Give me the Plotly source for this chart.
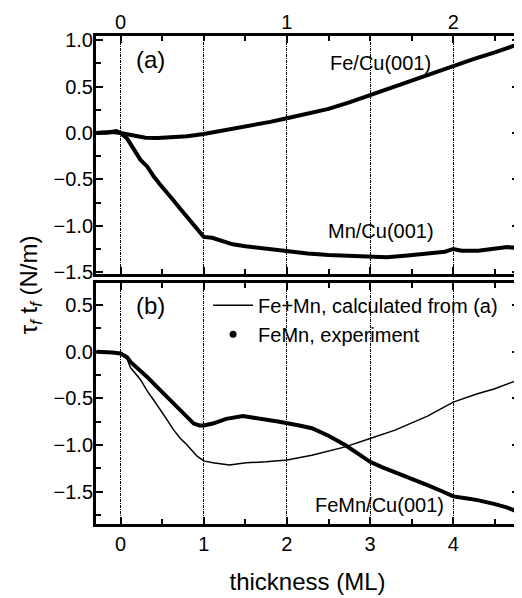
import plotly.graph_objects as go

# ---------------- data ----------------
fe_x = [-0.29, -0.2, -0.1, 0.0, 0.1, 0.2, 0.3, 0.45, 0.6, 0.8, 1.0, 1.2, 1.4, 1.6, 1.8,
        2.0, 2.2, 2.5, 2.75, 3.0, 3.25, 3.5, 3.75, 4.0, 4.25, 4.5, 4.79]
fe_y = [0.0, 0.005, 0.01, 0.0, -0.02, -0.04, -0.05, -0.055, -0.05, -0.035, -0.01, 0.02, 0.05,
        0.08, 0.12, 0.16, 0.20, 0.26, 0.33, 0.41, 0.49, 0.57, 0.65, 0.73, 0.80, 0.87, 0.96]

mn_x = [-0.29, -0.15, -0.05, 0.0, 0.08, 0.15, 0.24, 0.32, 0.4, 0.48, 0.56, 0.64, 0.72, 0.8,
        0.88, 0.95, 1.0, 1.1, 1.2, 1.35, 1.5, 1.6, 1.75, 1.9, 2.0, 2.25, 2.5, 2.75, 3.0,
        3.2, 3.45, 3.7, 3.9, 4.0, 4.1, 4.3, 4.5, 4.65, 4.79]
mn_y = [0.0, 0.005, 0.02, 0.0, -0.06, -0.17, -0.29, -0.36, -0.47, -0.56, -0.64, -0.73, -0.82,
        -0.91, -0.99, -1.07, -1.12, -1.13, -1.16, -1.20, -1.22, -1.23, -1.25, -1.27, -1.28,
        -1.30, -1.315, -1.325, -1.33, -1.34, -1.32, -1.30, -1.28, -1.25, -1.27, -1.27,
        -1.25, -1.23, -1.24]

calc_x = [-0.29, -0.2, -0.1, 0.0, 0.08, 0.12, 0.24, 0.32, 0.4, 0.48, 0.56, 0.64, 0.72, 0.8,
          0.92, 1.0, 1.11, 1.31, 1.51, 1.75, 2.0, 2.3, 2.7, 3.0, 3.3, 3.69, 4.0, 4.29, 4.49, 4.79]
calc_y = [0.0, 0.0, -0.01, -0.02, -0.08, -0.17, -0.30, -0.42, -0.52, -0.62, -0.73, -0.84,
          -0.93, -1.0, -1.12, -1.17, -1.19, -1.215, -1.19, -1.18, -1.16, -1.11, -1.02, -0.93,
          -0.84, -0.69, -0.54, -0.45, -0.40, -0.30]

exp_x = [-0.29, -0.2, -0.1, 0.0, 0.08, 0.12, 0.2, 0.32, 0.42, 0.52, 0.62, 0.72, 0.8, 0.88,
         0.95, 1.0, 1.11, 1.27, 1.47, 1.63, 1.8, 1.91, 2.15, 2.3, 2.5, 2.7, 2.85, 3.0, 3.15,
         3.3, 3.5, 3.69, 3.85, 4.0, 4.15, 4.29, 4.49, 4.65, 4.79]
exp_y = [0.0, 0.0, -0.01, -0.02, -0.06, -0.11, -0.17, -0.27, -0.36, -0.45, -0.54, -0.62,
         -0.70, -0.77, -0.79, -0.79, -0.77, -0.72, -0.69, -0.71, -0.73, -0.75, -0.79, -0.82,
         -0.90, -1.0, -1.09, -1.18, -1.24, -1.29, -1.36, -1.43, -1.49, -1.55, -1.57, -1.59,
         -1.63, -1.67, -1.72]

bottom_ticks = [0, 1, 2, 3, 4]
top_tickvals = [0, 2, 4]
top_ticktext = ["0", "1", "2"]

# ---------------- figure ----------------
FONT = "Arial, Liberation Sans, sans-serif"
XR = [-0.295, 4.79]
YA = [-1.52, 1.046]
YB = [-1.846, 0.736]

fig = go.Figure()

fig.add_trace(go.Scatter(x=fe_x, y=fe_y, mode="lines", line=dict(color="black", width=4),
                         xaxis="x", yaxis="y", showlegend=False, hoverinfo="skip"))
fig.add_trace(go.Scatter(x=mn_x, y=mn_y, mode="lines", line=dict(color="black", width=4),
                         xaxis="x", yaxis="y", showlegend=False, hoverinfo="skip"))
fig.add_trace(go.Scatter(x=[None], y=[None], mode="lines", xaxis="x3", yaxis="y",
                         showlegend=False, hoverinfo="skip"))

fig.add_trace(go.Scatter(x=calc_x, y=calc_y, mode="lines", line=dict(color="black", width=1.5),
                         xaxis="x2", yaxis="y2", name="Fe+Mn, calculated from (a)"))
fig.add_trace(go.Scatter(x=exp_x, y=exp_y, mode="lines", line=dict(color="black", width=4),
                         xaxis="x2", yaxis="y2", showlegend=False, hoverinfo="skip"))
fig.add_trace(go.Scatter(x=[None], y=[None], mode="markers",
                         marker=dict(color="black", size=7),
                         xaxis="x2", yaxis="y2", name="FeMn, experiment"))

common_x = dict(range=XR, showline=True, linecolor="black", linewidth=3, zeroline=False,
                ticks="inside", ticklen=7, tickwidth=2, tickcolor="black",
                tickfont=dict(family=FONT, size=20, color="black"))
minor_x = dict(dtick=0.5, tick0=0, ticks="inside", ticklen=5, tickwidth=2, tickcolor="black",
               showgrid=False)
grid = dict(showgrid=True, gridcolor="black", gridwidth=1, griddash="3px,1px,1px,1px")

common_y = dict(showline=True, linecolor="black", linewidth=3, zeroline=False, showgrid=False,
                ticks="inside", ticklen=7, tickwidth=2, tickcolor="black", mirror="ticks",
                dtick=0.5, tick0=0, tickformat=".1f", ticklabelstandoff=-4,
                minor=dict(dtick=0.25, tick0=0, ticks="inside", ticklen=5, tickwidth=2,
                           tickcolor="black"),
                tickfont=dict(family=FONT, size=20, color="black"))

# page body has an 8px margin: the figure is 8px smaller and margins shifted by 8px
fig.update_layout(
    width=514, height=590,
    margin=dict(l=88, r=0, t=28, b=74),
    paper_bgcolor="white", plot_bgcolor="white",
    font=dict(family=FONT, size=20, color="black"),
    xaxis=dict(**common_x, **grid, domain=[0, 1], anchor="y", side="bottom",
               tickmode="array", tickvals=bottom_ticks, showticklabels=False,
               minor=minor_x),
    xaxis3=dict(**common_x, overlaying="x", anchor="y", side="top", showgrid=False,
                tickmode="array", tickvals=top_tickvals, ticktext=top_ticktext,
                ticklabelstandoff=-4, minor=minor_x),
    xaxis2=dict(**common_x, **grid, domain=[0, 1], anchor="y2", side="bottom", mirror="ticks",
                tickmode="array", tickvals=bottom_ticks,
                minor=minor_x,
                title=dict(text="thickness (ML)", font=dict(family=FONT, size=24),
                           standoff=20)),
    yaxis=dict(**common_y, range=YA, domain=[0.5123, 1], anchor="x"),
    yaxis2=dict(**common_y, range=YB, domain=[0, 0.4939], anchor="x2"),
    legend=dict(x=0.265, y=0.488, xanchor="left", yanchor="top",
                bgcolor="rgba(0,0,0,0)", font=dict(family=FONT, size=20),
                itemwidth=40, tracegroupgap=0),
    showlegend=True,
    annotations=[
        dict(text="(a)", x=0.36, y=0.79, xref="x", yref="y", showarrow=False,
             font=dict(family=FONT, size=24)),
        dict(text="(b)", x=0.36, y=0.49, xref="x2", yref="y2", showarrow=False,
             font=dict(family=FONT, size=24)),
        dict(text="Fe/Cu(001)", x=3.13, y=0.753, xref="x", yref="y", showarrow=False,
             font=dict(family=FONT, size=20)),
        dict(text="Mn/Cu(001)", x=3.13, y=-1.055, xref="x", yref="y", showarrow=False,
             font=dict(family=FONT, size=20)),
        dict(text="FeMn/Cu(001)", x=3.11, y=-1.643, xref="x2", yref="y2", showarrow=False,
             font=dict(family=FONT, size=20)),
        dict(text="τ<sub><i>f</i></sub> t<sub><i>f</i></sub> (N/m)", x=-0.155, y=0.49,
             xref="paper", yref="paper", showarrow=False, textangle=-90,
             xanchor="center", yanchor="middle", font=dict(family=FONT, size=24)),
    ],
)

fig.write_html("out.html")
